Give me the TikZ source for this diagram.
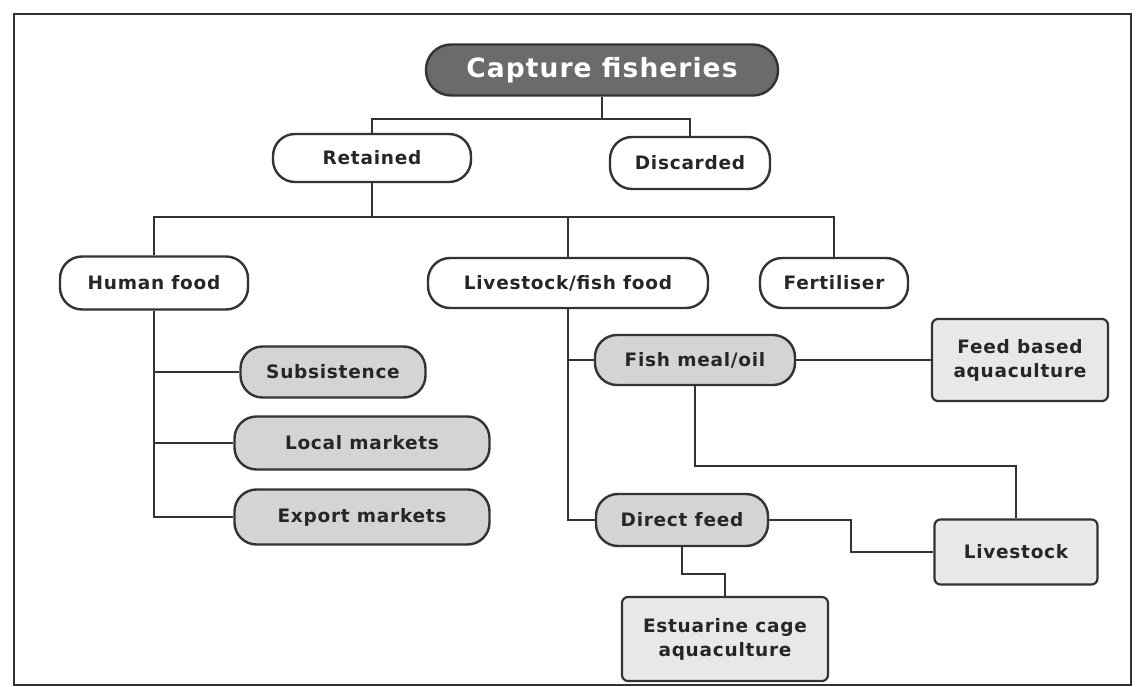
\documentclass[tikz,border=0pt]{standalone}
\usepackage{fontspec}
\setmainfont{DejaVu Sans}[LetterSpace=4]

\begin{document}
\begin{tikzpicture}[x=1pt, y=-1pt,
  pill/.style={rectangle, rounded corners=22pt, draw=black!80, line width=2.4pt,
               fill=white, inner sep=0pt, text=black!85,
               font=\fontsize{18.5}{22}\selectfont\bfseries},
  shaded/.style={pill, fill=black!17},
  rbox/.style={rectangle, rounded corners=6pt, draw=black!80, line width=2.2pt,
               fill=black!9, inner sep=0pt, align=center, text=black!85,
               font=\fontsize{18.5}{24}\selectfont\bfseries},
  link/.style={draw=black!80, line width=2.2pt}]
\useasboundingbox (0,0) rectangle (1141,687);
\draw[black!80, line width=2pt] (14,14) rectangle (1131,685);
\node[pill, fill=black!58, text=white, rounded corners=25pt,
      minimum width=352, minimum height=51,
      font=\fontsize{26.5}{30}\selectfont\bfseries] (cap) at (602,70) {Capture fisheries};
\node[pill, minimum width=198, minimum height=48] (ret) at (372,158) {Retained};
\node[pill, minimum width=160, minimum height=52] (dis) at (690,163) {Discarded};
\node[pill, minimum width=188, minimum height=53] (hum) at (154,283) {Human food};
\node[pill, minimum width=280, minimum height=50] (liv) at (568,283) {Livestock/fish food};
\node[pill, minimum width=148, minimum height=50] (fert) at (834,283) {Fertiliser};
\node[shaded, minimum width=185, minimum height=51] (sub) at (333,372) {Subsistence};
\node[shaded, minimum width=255, minimum height=53] (loc) at (362,443) {Local markets};
\node[shaded, minimum width=255, minimum height=55] (exp) at (362,517) {Export markets};
\node[shaded, minimum width=200, minimum height=50] (fish) at (695,360) {Fish meal/oil};
\node[shaded, minimum width=172, minimum height=52] (direct) at (682,520) {Direct feed};
\node[rbox, minimum width=176, minimum height=82] (feed) at (1020,360) {Feed based\\aquaculture};
\node[rbox, minimum width=163, minimum height=65] (lst) at (1016,552) {Livestock};
\node[rbox, minimum width=206, minimum height=84] (est) at (725,639) {Estuarine cage\\aquaculture};
\draw[link] (cap.south) -- ++(0,22) -| (ret.north);
\draw[link] (cap.south) -- ++(0,22) -| (dis.north);
\draw[link] (ret.south) -- ++(0,34) -| (hum.north);
\draw[link] (ret.south) -- ++(0,34) -| (liv.north);
\draw[link] (ret.south) -- ++(0,34) -| (fert.north);
\draw[link] (hum.south) |- (sub.west);
\draw[link] (hum.south) |- (loc.west);
\draw[link] (hum.south) |- (exp.west);
\draw[link] (liv.south) |- (fish.west);
\draw[link] (liv.south) |- (direct.west);
\draw[link] (fish.east) -- (feed.west);
\draw[link] (fish.south) -- ++(0,80) -| (lst.north);
\draw[link] (direct.east) -- ++(82,0) |- (lst.west);
\draw[link] (direct.south) -- ++(0,27) -| (est.north);
\end{tikzpicture}
\end{document}
